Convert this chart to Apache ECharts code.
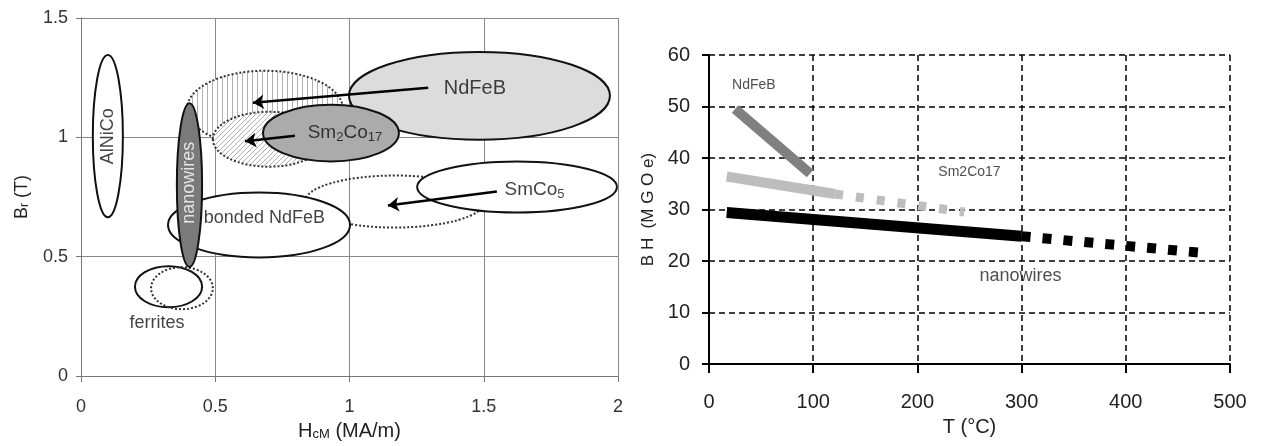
<!DOCTYPE html>
<html><head><meta charset="utf-8">
<script src="https://cdn.jsdelivr.net/npm/echarts@6/dist/echarts.min.js"></script>
<style>html,body{margin:0;padding:0;background:#fff}#c{width:1261px;height:446px}</style>
</head><body><div id="c"></div>
<script>
// ---------- Left panel: Br vs HcM (ellipse regions, data units) ----------
const ellipseNames = ['AlNiCo','nwProjection','NdFeB','sm2co17Projection','Sm2Co17','smco5Projection','SmCo5','bondedNdFeB','ferrites','ferritesProjection','nanowires'];
const ellipseX  = [0.100, 0.685, 1.484, 0.700, 0.931, 1.169, 1.624, 0.663, 0.326, 0.376, 0.404];
const ellipseY  = [1.005, 1.120, 1.174, 0.992, 1.018, 0.731, 0.792, 0.633, 0.374, 0.368, 0.800];
const ellipseRX = [0.056, 0.290, 0.486, 0.209, 0.253, 0.335, 0.372, 0.339, 0.125, 0.115, 0.047];
const ellipseRY = [0.340, 0.159, 0.184, 0.115, 0.119, 0.109, 0.107, 0.136, 0.086, 0.088, 0.343];

const leftLabelText   = ['AlNiCo','nanowires','NdFeB','Sm{s|2}Co{s|17}','SmCo{s|5}','bonded NdFeB','ferrites'];
const leftLabelX      = [0.100, 0.404, 1.467, 0.983, 1.689, 0.683, 0.283];
const leftLabelY      = [1.005, 0.810, 1.203, 1.020, 0.781, 0.660, 0.221];
const leftLabelRotate = [90, 90, 0, 0, 0, 0, 0];

const arrowFromX = [1.293, 0.797, 1.549];
const arrowFromY = [1.208, 1.007, 0.773];
const arrowToX   = [0.640, 0.611, 1.143];
const arrowToY   = [1.145, 0.984, 0.714];

const leftXTicks = [0, 0.5, 1, 1.5, 2];
const leftYTicks = [0, 0.5, 1, 1.5];

// ---------- Right panel: BH vs T ----------
const ndfebT = [25, 97];
const ndfebBH = [49.5, 37.0];
const sm2co17SolidT = [17, 121];
const sm2co17SolidBH = [36.4, 33.0];
const sm2co17DashT = [121, 245];
const sm2co17DashBH = [33.0, 29.5];
const nanoSolidT = [17, 300];
const nanoSolidBH = [29.4, 24.8];
const nanoDashT = [300, 478];
const nanoDashBH = [24.8, 21.5];

const rightLabelText = ['NdFeB', 'Sm2Co17', 'nanowires'];
const rightLabelT  = [43, 250, 299];
const rightLabelBH = [54.2, 37.3, 17.0];

const rightXTicks = [0, 100, 200, 300, 400, 500];
const rightYTicks = [0, 10, 20, 30, 40, 50, 60];

// ---------- patterns ----------
function makePattern(kind){
  const cv = document.createElement('canvas');
  cv.width = 5; cv.height = 5;
  const ctx = cv.getContext('2d');
  ctx.fillStyle = '#fff'; ctx.fillRect(0,0,5,5);
  ctx.strokeStyle = '#b0b0b0'; ctx.lineWidth = 1;
  ctx.beginPath();
  if (kind === 'v') { ctx.moveTo(2.5,0); ctx.lineTo(2.5,5); }
  else { ctx.moveTo(-1,6); ctx.lineTo(6,-1); ctx.moveTo(-1,1); ctx.lineTo(1,-1); ctx.moveTo(4,6); ctx.lineTo(6,4); }
  ctx.stroke();
  return {image: cv, repeat: 'repeat'};
}
const solid = {stroke:'#111', lineWidth:2};
const dotted = {stroke:'#333', lineWidth:2, lineDash:[2,2]};
const ellipseStyles = {
  AlNiCo: Object.assign({fill:'#fff'}, solid),
  nwProjection: Object.assign({fill: makePattern('v')}, dotted),
  NdFeB: Object.assign({fill:'#dcdcdc'}, solid),
  sm2co17Projection: Object.assign({fill: makePattern('d')}, dotted),
  Sm2Co17: Object.assign({fill:'#ababab'}, solid),
  smco5Projection: Object.assign({fill:'none'}, dotted),
  SmCo5: Object.assign({fill:'#fff'}, solid),
  bondedNdFeB: Object.assign({fill:'#fff'}, solid),
  ferrites: Object.assign({fill:'none'}, solid),
  ferritesProjection: Object.assign({fill:'none'}, dotted),
  nanowires: Object.assign({fill:'#7a7a7a'}, solid)
};

const leftFont = 'Liberation Sans, Arial, sans-serif';
const rightFont = 'Liberation Sans, Arial, sans-serif';
const rich = {
  n: {fontSize: 19, fontFamily: leftFont, color:'#111', lineHeight: 22},
  s: {fontSize: 13, fontFamily: leftFont, color:'#111', verticalAlign:'bottom', lineHeight: 14}
};

const zip = (a,b) => a.map((v,i)=>[v,b[i]]);

const chart = echarts.init(document.getElementById('c'), null, {renderer:'canvas'});
chart.setOption({
  animation: false,
  backgroundColor: '#fff',
  grid: [
    {left: 81, top: 18, width: 537, height: 359},
    {left: 709, top: 55, width: 521, height: 309}
  ],
  xAxis: [
    {gridIndex:0, type:'value', min:0, max:2, interval:0.5,
     axisLine:{show:true, lineStyle:{color:'#777', width:1}},
     axisTick:{show:true, length:6, lineStyle:{color:'#777'}},
     axisLabel:{fontSize:18, color:'#333', margin:22, fontFamily:leftFont},
     splitLine:{show:true, lineStyle:{color:'#888', width:1}},
     name:'H{s|cM} (MA/m)', nameLocation:'middle', nameGap:45,
     nameTextStyle:{fontSize:20, color:'#222', fontFamily:leftFont,
        rich:{s:{fontSize:13, fontFamily:leftFont, color:'#222', verticalAlign:'bottom', lineHeight:14}}}},
    {gridIndex:1, type:'value', min:0, max:500, interval:100,
     axisLine:{show:true, lineStyle:{color:'#000', width:2}},
     axisTick:{show:true, length:9, lineStyle:{color:'#000', width:2}},
     axisLabel:{fontSize:20, color:'#222', margin:28, fontFamily:rightFont},
     splitLine:{show:true, lineStyle:{color:'#000', width:1.5, type:[6,4]}},
     name:'T (°C)', nameLocation:'middle', nameGap:53,
     nameTextStyle:{fontSize:20, color:'#222', fontFamily:rightFont}}
  ],
  yAxis: [
    {gridIndex:0, type:'value', min:0, max:1.5, interval:0.5,
     axisLine:{show:true, lineStyle:{color:'#777', width:1}},
     axisTick:{show:true, length:5, lineStyle:{color:'#777'}},
     axisLabel:{fontSize:18, color:'#333', margin:13, fontFamily:leftFont},
     splitLine:{show:true, lineStyle:{color:'#888', width:1}},
     name:'B{s|r} (T)', nameLocation:'middle', nameGap:50,
     nameTextStyle:{fontSize:18, color:'#222', fontFamily:leftFont,
        rich:{s:{fontSize:12, fontFamily:leftFont, color:'#222', verticalAlign:'bottom', lineHeight:14}}}},
    {gridIndex:1, type:'value', min:0, max:60, interval:10,
     axisLine:{show:true, lineStyle:{color:'#000', width:2}},
     axisTick:{show:true, length:7, lineStyle:{color:'#000', width:2}},
     axisLabel:{fontSize:20, color:'#222', margin:19, fontFamily:rightFont},
     splitLine:{show:true, lineStyle:{color:'#000', width:1.5, type:[6,4]}},
     name:'B H  (M G O e)', nameLocation:'middle', nameGap:52,
     nameTextStyle:{fontSize:17, color:'#222', fontFamily:rightFont}}
  ],
  series: [
    {type:'custom', xAxisIndex:0, yAxisIndex:0, z:2,
     data: ellipseNames.map((n,i)=>[ellipseX[i], ellipseY[i], ellipseRX[i], ellipseRY[i]]),
     renderItem: function(params, api){
       const c = api.coord([api.value(0), api.value(1)]);
       const s = api.size([api.value(2), api.value(3)]);
       const st = ellipseStyles[ellipseNames[params.dataIndex]];
       return {type:'ellipse', shape:{cx:c[0], cy:c[1], rx:s[0], ry:s[1]}, style: Object.assign({}, st)};
     }},
    {type:'lines', coordinateSystem:'cartesian2d', xAxisIndex:0, yAxisIndex:0, z:5,
     symbol:['none','arrow'], symbolSize:[1,11],
     lineStyle:{color:'#000', width:2.5, opacity:1, curveness:0},
     data: arrowFromX.map((x,i)=>({coords:[[x, arrowFromY[i]], [arrowToX[i], arrowToY[i]]]}))},
    {type:'scatter', xAxisIndex:0, yAxisIndex:0, z:6, symbolSize:1, itemStyle:{color:'rgba(0,0,0,0)'},
     data: leftLabelText.map((t,i)=>({value:[leftLabelX[i], leftLabelY[i]],
        label:{show:true, position:'inside', rotate:leftLabelRotate[i],
          formatter: t.indexOf('{')>=0 ? t.replace(/^([^{]+)/, '{n|$1}').replace(/\}([^{]+)\{/g,'}{n|$1}{') : t,
          color: t==='nanowires' ? '#fff' : '#111',
          fontSize: (t==='NdFeB') ? 20 : 18, fontFamily:leftFont, rich: rich}}))},
    // right panel
    {type:'line', xAxisIndex:1, yAxisIndex:1, symbol:'none', z:4,
     lineStyle:{color:'#808080', width:10, cap:'butt'}, data: zip(ndfebT, ndfebBH)},
    {type:'line', xAxisIndex:1, yAxisIndex:1, symbol:'none', z:3,
     lineStyle:{color:'#bdbdbd', width:10, cap:'butt'}, data: zip(sm2co17SolidT, sm2co17SolidBH)},
    {type:'line', xAxisIndex:1, yAxisIndex:1, symbol:'none', z:3,
     lineStyle:{color:'#bdbdbd', width:9, cap:'butt', type:[8,13]}, data: zip(sm2co17DashT, sm2co17DashBH)},
    {type:'line', xAxisIndex:1, yAxisIndex:1, symbol:'none', z:4,
     lineStyle:{color:'#000', width:11, cap:'butt'}, data: zip(nanoSolidT, nanoSolidBH)},
    {type:'line', xAxisIndex:1, yAxisIndex:1, symbol:'none', z:4,
     lineStyle:{color:'#000', width:10, cap:'butt', type:[9,12]}, data: zip(nanoDashT, nanoDashBH)},
    {type:'scatter', xAxisIndex:1, yAxisIndex:1, z:6, symbolSize:1, itemStyle:{color:'rgba(0,0,0,0)'},
     data: rightLabelText.map((t,i)=>({value:[rightLabelT[i], rightLabelBH[i]],
        label:{show:true, position:'inside', formatter:t, color:'#222',
          fontSize: t==='nanowires' ? 18 : 14, fontFamily:rightFont}}))}
  ]
});
</script></body></html>
